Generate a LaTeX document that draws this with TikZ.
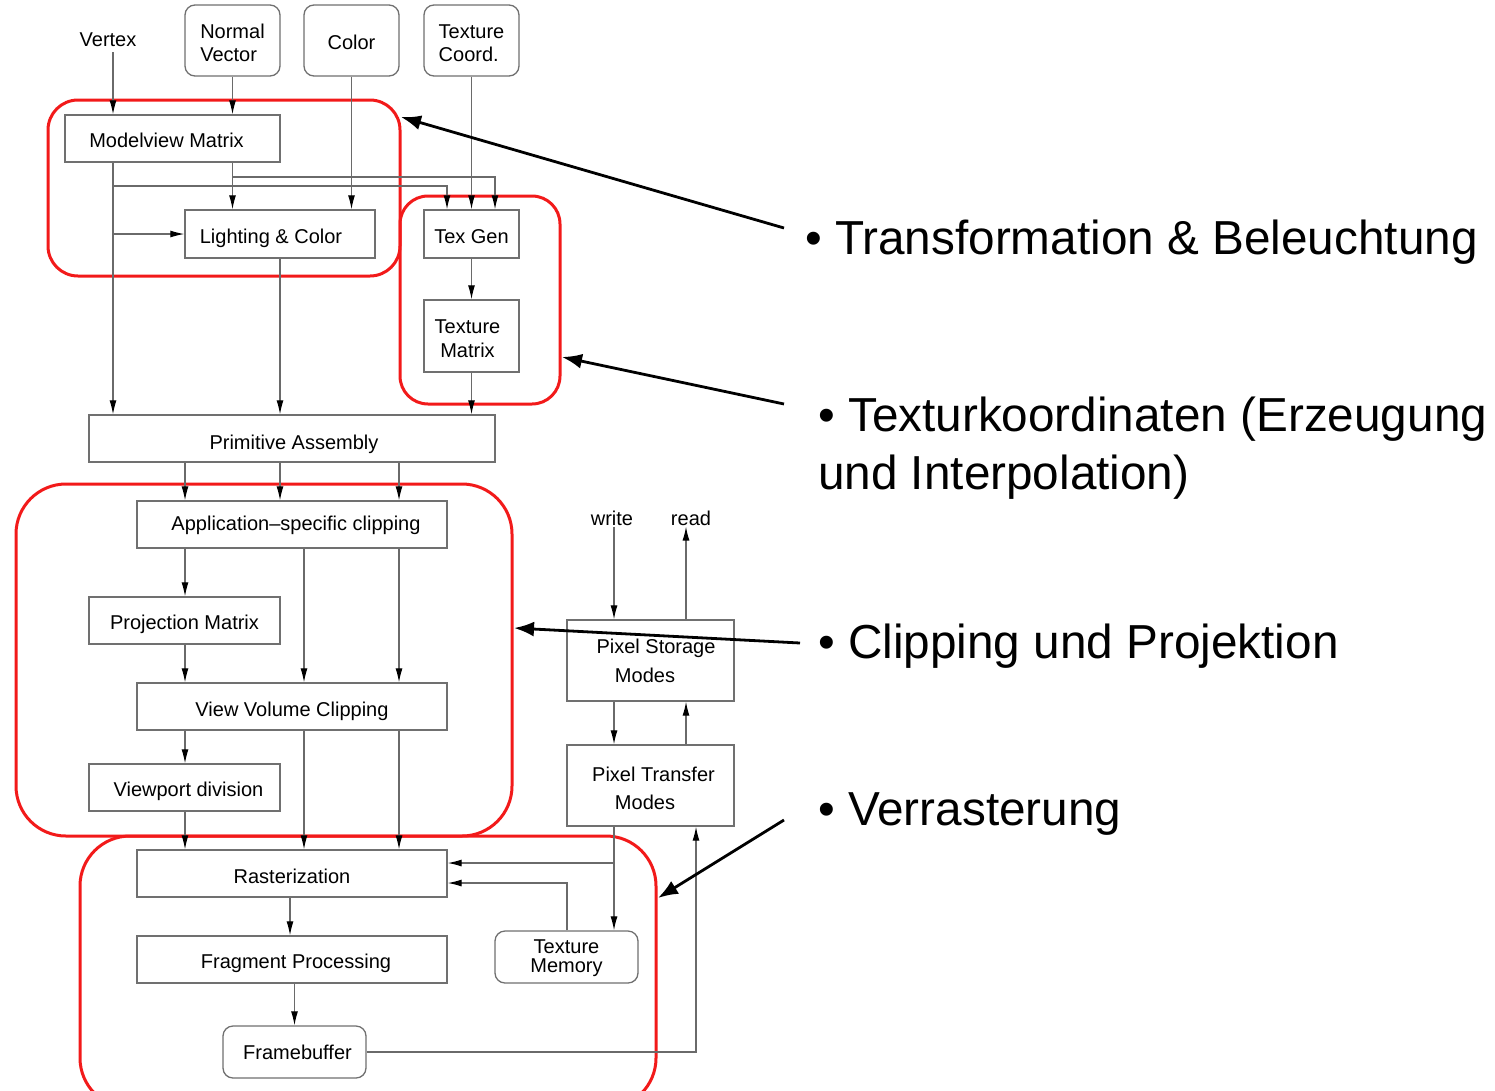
\documentclass[tikz,border=0pt]{standalone}
\usepackage{fontspec}
\setmainfont{Liberation Sans}
\usetikzlibrary{arrows.meta}
\definecolor{linegray}{HTML}{6A6A6A}
\definecolor{boxgray}{HTML}{707070}
\definecolor{groupred}{HTML}{F21A1A}
\begin{document}
\begin{tikzpicture}[x=1pt,y=-1pt,
  every node/.style={font=\fontsize{20}{23.4}\selectfont, text=black},
  box/.style={draw=boxgray, line width=1.3pt, fill=white, inner sep=0pt, align=center},
  rbox/.style={box, rounded corners=10pt},
  oneline/.style={text height=#1, text depth=0pt},
  oneline/.default=18.6pt,
  tag/.style={inner sep=1pt},
  plain/.style={draw=linegray, line width=1.2pt},
  flow/.style={plain, -{Latex[length=14pt,width=7pt,color=black]}},
  group/.style={draw=groupred, line width=3pt, rounded corners=#1},
  callout/.style={draw=black, line width=2.8pt, -{Latex[length=20pt,width=15pt]}},
  bigtext/.style={font=\fontsize{47.7}{58}\selectfont, inner sep=0pt, align=left}]

\useasboundingbox (0,0) rectangle (1495,1090);

% pipeline stage groups
\draw[group=30pt] (48,100) rectangle (400,276);
\draw[group=28pt] (400,196) rectangle (560,404);
\draw[group=50pt] (16,484) rectangle (512,836);
\draw[group=50pt] (80,836) rectangle (656,1108);

% inputs
\node[tag] (vtx) at (108,40) {Vertex};
\node[rbox, align=left, minimum width=95, minimum height=71] (nv) at (232.5,40.5) {\rule{0pt}{19pt}Normal\\Vector};
\node[rbox, oneline, minimum width=95, minimum height=71] (col) at (351.5,40.5) {Color};
\node[rbox, align=left, minimum width=95, minimum height=71] (tc) at (471.5,40.5) {\rule{0pt}{19pt}Texture\\Coord.};

% geometry stages
\node[box, oneline, minimum width=215, minimum height=47] (mv) at (172.5,138.5) {\hspace*{-12pt}Modelview Matrix};
\node[box, oneline, minimum width=190, minimum height=48] (lc) at (280,234) {\hspace*{-18pt}Lighting \& Color};
\node[box, oneline, minimum width=95, minimum height=48] (tg) at (471.5,234) {Tex Gen};
\node[box, minimum width=95, minimum height=72] (tm) at (471.5,336) {\hspace*{-8pt}\rule{0pt}{19pt}Texture\\\hspace*{-8pt}Matrix};
\node[box, oneline=21pt, minimum width=406, minimum height=47] (pa) at (292,438.5) {\hspace*{4pt}Primitive Assembly};
\node[box, oneline=11pt, minimum width=310, minimum height=47] (asc) at (292,524.5) {\hspace*{8pt}Application--specific clipping};
\node[box, oneline, minimum width=191, minimum height=47] (pm) at (184.5,620.5) {Projection Matrix};
\node[box, oneline=20pt, minimum width=310, minimum height=47] (vvc) at (292,706.5) {View Volume Clipping};
\node[box, oneline, minimum width=191, minimum height=47] (vd) at (184.5,787.5) {\hspace*{8pt}Viewport division};

% fragment stages
\node[box, oneline=19.6pt, minimum width=310, minimum height=47] (ras) at (292,873.5) {Rasterization};
\node[box, oneline, minimum width=310, minimum height=47] (fp) at (292,959.5) {\hspace*{8pt}Fragment Processing};
\node[rbox, oneline=14.6pt, minimum width=143, minimum height=52] (fb) at (294.5,1052) {\hspace*{6pt}Framebuffer};
\node[rbox, minimum width=143, minimum height=52, font=\fontsize{20}{19.4}\selectfont] (tmem) at (566.5,957) {\rule{0pt}{16.2pt}Texture\\Memory};

% pixel path
\node[tag] (wr) at (612,518) {write};
\node[tag] (rd) at (691,518) {read};
\node[box, minimum width=167, minimum height=81, font=\fontsize{20}{28.7}\selectfont] (psm) at (650.5,660.5) {\hspace*{11pt}Pixel Storage\\\hspace*{-11pt}Modes};
\node[box, minimum width=167, minimum height=81, font=\fontsize{20}{28.3}\selectfont] (ptm) at (650.5,785.5) {\hspace*{6pt}\rule{0pt}{20.7pt}Pixel Transfer\\\hspace*{-11pt}Modes};

% lanes and junctions
\coordinate (La) at (113,0);
\coordinate (Lb) at (185,0);
\coordinate (Lc) at (304,0);
\coordinate (Ld) at (399,0);
\coordinate (Le) at (447,0);
\coordinate (Lf) at (495,0);
\coordinate (Lg) at (614,0);
\coordinate (Lh) at (686,0);
\coordinate (Li) at (696,0);
\coordinate (Lj) at (280,0);
\coordinate (Lk) at (290,0);
\coordinate (j1) at (113,186);
\coordinate (j2) at (113,234);
\coordinate (j3) at (232,177);
\coordinate (j4) at (614,863);
\coordinate (j5) at (567,883);

% input connectors
\draw[flow] ([yshift=-4pt]vtx.south -| La) -- (mv.north -| La);
\draw[flow] (nv.south) -- (mv.north -| nv.south);
\draw[flow] (col.south) -- (lc.north -| col.south);
\draw[flow] (tc.south) -- (tg.north);

% geometry connectors
\draw[flow] (mv.south -| La) -- (pa.north -| La);
\draw[flow] (j1) -| (tg.north -| Le);
\draw[flow] (j2) -- (lc.west);
\draw[flow] (mv.south -| nv.south) -- (lc.north -| nv.south);
\draw[flow] (j3) -| (tg.north -| Lf);
\draw[flow] (lc.south) -- (pa.north -| lc.south);
\draw[flow] (tg) -- (tm);
\draw[flow] (tm.south) -- (pa.north -| tm.south);
\draw[flow] (pa.south -| Lb) -- (asc.north -| Lb);
\draw[flow] (pa.south -| Lj) -- (asc.north -| Lj);
\draw[flow] (pa.south -| Ld) -- (asc.north -| Ld);
\draw[flow] (asc.south -| Lb) -- (pm.north -| Lb);
\draw[flow] (asc.south -| Lc) -- (vvc.north -| Lc);
\draw[flow] (asc.south -| Ld) -- (vvc.north -| Ld);
\draw[flow] (pm.south -| Lb) -- (vvc.north -| Lb);
\draw[flow] (vvc.south -| Lb) -- (vd.north -| Lb);
\draw[flow] (vvc.south -| Lc) -- (ras.north -| Lc);
\draw[flow] (vvc.south -| Ld) -- (ras.north -| Ld);
\draw[flow] (vd.south -| Lb) -- (ras.north -| Lb);

% fragment connectors
\draw[flow] (ras.south -| Lk) -- (fp.north -| Lk);
\draw[flow] (fp.south -| fb.north) -- (fb.north);
\draw[flow] (fb.east) -| (ptm.south -| Li);

% pixel connectors
\draw[flow] (wr.south -| Lg) -- (psm.north -| Lg);
\draw[flow] (psm.north -| Lh) -- (rd.south -| Lh);
\draw[flow] (psm.south -| Lg) -- (ptm.north -| Lg);
\draw[flow] (ptm.north -| Lh) -- (psm.south -| Lh);
\draw[flow] (ptm.south -| Lg) -- (tmem.north -| Lg);
\draw[flow] (j4) -- (ras.east |- j4);
\draw[flow] (tmem.north -| j5) -- (j5) -- (ras.east |- j5);

% stage captions
\node[bigtext, anchor=base west] (t1) at (805,254) {• Transformation \& Beleuchtung};
\node[bigtext, anchor=west] (t2) at (818,448) {• Texturkoordinaten (Erzeugung\\und Interpolation)};
\node[bigtext, anchor=base west] (t3) at (818,658) {• Clipping und Projektion};
\node[bigtext, anchor=base west] (t4) at (818,825) {• Verrasterung};

% caption pointers
\coordinate (c1s) at (784,228);
\coordinate (c1e) at (401,117);
\coordinate (c2s) at (784,404);
\coordinate (c2e) at (562,357);
\coordinate (c3s) at (800,643);
\coordinate (c3e) at (514,628);
\coordinate (c4s) at (784,820);
\coordinate (c4e) at (658,898);
\draw[callout] (c1s) -- (c1e);
\draw[callout] (c2s) -- (c2e);
\draw[callout] (c3s) -- (c3e);
\draw[callout] (c4s) -- (c4e);
\end{tikzpicture}
\end{document}
